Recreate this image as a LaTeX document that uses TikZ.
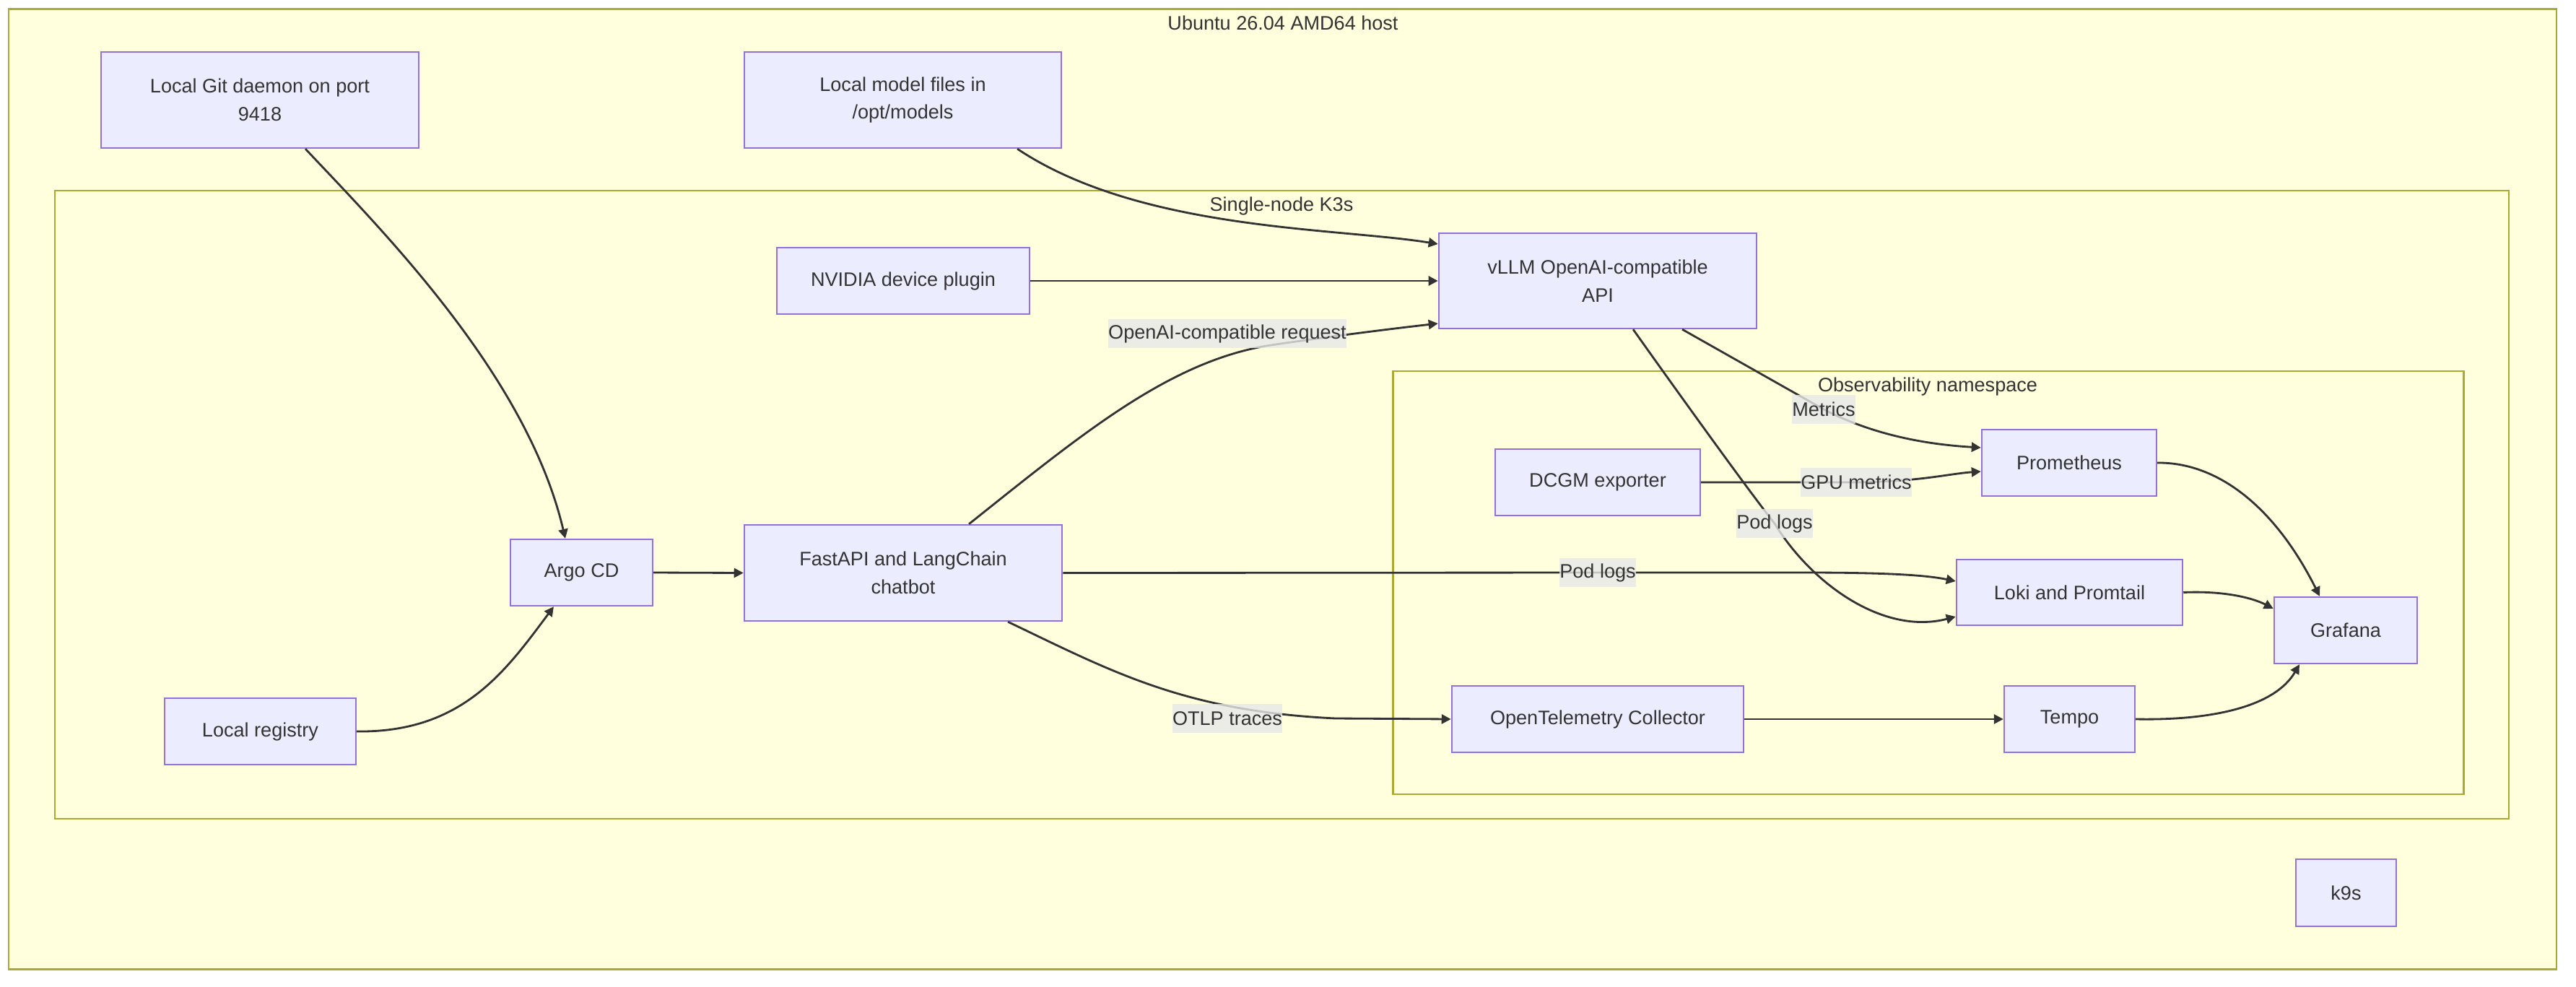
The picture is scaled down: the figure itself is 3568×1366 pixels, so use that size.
\documentclass[tikz,border=0pt]{standalone}
\usepackage{fontspec}
\setmainfont{Liberation Sans}
\usetikzlibrary{arrows.meta}
\definecolor{nodefill}{HTML}{ECECFF}
\definecolor{nodestroke}{HTML}{9370DB}
\definecolor{clfill}{HTML}{FFFFDE}
\definecolor{clstroke}{HTML}{AAAA33}
\definecolor{edgecol}{HTML}{333333}
\definecolor{lblfill}{HTML}{E8E8E8}
\definecolor{txt}{HTML}{333333}
\tikzset{
  dfont/.style={font=\fontsize{7.7pt}{11pt}\selectfont},
  cluster/.style={draw=clstroke, fill=clfill, line width=0.65pt, inner sep=0pt},
  cltitle/.style={dfont, text=txt, inner sep=0pt},
  box/.style={dfont, draw=nodestroke, fill=nodefill, line width=0.65pt, text=txt, align=center, inner sep=0pt},
  lbl/.style={dfont, fill=lblfill, fill opacity=0.8, text opacity=1, text=txt, inner xsep=0pt, inner ysep=0pt, minimum height=0.40cm},
  edge/.style={draw=edgecol, line width=0.8pt, -{Triangle[length=0.13cm,width=0.13cm]}},
}
\begin{document}
\begin{tikzpicture}[x=0.01cm, y=-0.01cm]
\useasboundingbox[fill=white] (0,0) rectangle (3568,1366);
% clusters
\node[cluster, minimum width=35.27cm, minimum height=13.29cm] (host) at (1776.5,677.5) {};
\node[cltitle] (hosttitle) at (1777,32) {Ubuntu 26.04 AMD64 host};
\node[cluster, minimum width=33.97cm, minimum height=8.70cm] (k3s) at (1775.5,699) {};
\node[cltitle] (k3stitle) at (1775,285) {Single-node K3s};
\node[cluster, minimum width=14.82cm, minimum height=5.86cm] (obs) at (2671,807) {};
\node[cltitle] (obstitle) at (2670,535) {Observability namespace};
% nodes
\node[box, minimum width=4.40cm, minimum height=1.33cm] (git) at (360,138.5) {Local Git daemon on port\\9418};
\node[box, minimum width=4.39cm, minimum height=1.33cm] (model) at (1250.5,138.5) {Local model files in\\/opt/models};
\node[box, minimum width=3.50cm, minimum height=0.92cm] (nvidia) at (1251,389) {NVIDIA device plugin};
\node[box, minimum width=4.40cm, minimum height=1.32cm] (vllm) at (2213,389) {vLLM OpenAI-compatible\\API};
\node[box, minimum width=1.97cm, minimum height=0.92cm] (argo) at (805.5,793) {Argo CD};
\node[box, minimum width=4.40cm, minimum height=1.33cm] (fastapi) at (1251,793.5) {FastAPI and LangChain\\chatbot};
\node[box, minimum width=2.65cm, minimum height=0.92cm] (registry) at (360.5,1013) {Local registry};
\node[box, minimum width=2.84cm, minimum height=0.92cm] (dcgm) at (2213,668) {DCGM exporter};
\node[box, minimum width=2.42cm, minimum height=0.92cm] (prom) at (2866,641) {Prometheus};
\node[box, minimum width=3.13cm, minimum height=0.91cm] (loki) at (2866.5,820.5) {Loki and Promtail};
\node[box, minimum width=1.98cm, minimum height=0.92cm] (grafana) at (3249,873) {Grafana};
\node[box, minimum width=4.04cm, minimum height=0.92cm] (otel) at (2213,996) {OpenTelemetry Collector};
\node[box, minimum width=1.81cm, minimum height=0.92cm] (tempo) at (2866.5,996) {Tempo};
\node[box, minimum width=1.39cm, minimum height=0.93cm] (k9s) at (3249.5,1236.5) {k9s};
% label anchor points
\coordinate (reqc) at (1700,462);
\coordinate (pl1c) at (2213,793);
\coordinate (pl2c) at (2458,725);
\coordinate (metc) at (2526,567);
\coordinate (gpuc) at (2571,668);
\coordinate (otlpc) at (1700,995);
% edges
\draw[edge] ([xshift=0.63cm]git.south) .. controls (530,320) and (730,520) .. ([xshift=-0.225cm]argo.north);
\draw[edge] ([xshift=1.585cm]model.south) .. controls (1580,320) and (1850,315) .. ([yshift=0.51cm]vllm.west);
\draw[edge] (nvidia.east) -- (vllm.west);
\draw[edge] ([xshift=0.91cm]fastapi.north) .. controls (1500,600) and (1620,500) .. (1760,478) .. controls (1850,465) and (1930,455) .. ([yshift=-0.59cm]vllm.west);
\draw[edge] (argo.east) -- (fastapi.west);
\draw[edge] (registry.east) .. controls (640,1015) and (700,930) .. ([xshift=-0.385cm]argo.south);
\draw[edge] (fastapi.east) -- (pl1c) -- (2500,793) .. controls (2620,793) and (2670,797) .. ([yshift=0.155cm]loki.west);
\draw[edge] ([xshift=0.49cm]vllm.south) .. controls (2350,580) and (2430,690) .. (pl2c) .. controls (2510,810) and (2610,880) .. ([yshift=-0.335cm]loki.west);
\draw[edge] ([xshift=1.17cm]vllm.south) -- (metc) .. controls (2590,600) and (2660,615) .. ([yshift=0.21cm]prom.west);
\draw[edge] (dcgm.east) -- (gpuc) .. controls (2660,667) and (2700,656) .. ([yshift=-0.12cm]prom.west);
\draw[edge] ([xshift=1.45cm]fastapi.south) .. controls (1540,930) and (1640,985) .. (1850,995) -- (otel.west);
\draw[edge] (otel.east) -- (tempo.west);
\draw[edge] (prom.east) .. controls (3070,640) and (3150,700) .. ([xshift=-0.36cm]grafana.north);
\draw[edge] (loki.east) .. controls (3080,818) and (3120,828) .. ([yshift=0.30cm]grafana.west);
\draw[edge] (tempo.east) .. controls (3060,998) and (3150,980) .. ([xshift=-0.64cm]grafana.south);
% edge labels
\node[lbl] (req) at (reqc) {OpenAI-compatible request};
\node[lbl] (pl1) at (pl1c) {Pod logs};
\node[lbl] (pl2) at (pl2c) {Pod logs};
\node[lbl] (met) at (metc) {Metrics};
\node[lbl] (gpu) at (gpuc) {GPU metrics};
\node[lbl] (otlp) at (otlpc) {OTLP traces};
\end{tikzpicture}
\end{document}
